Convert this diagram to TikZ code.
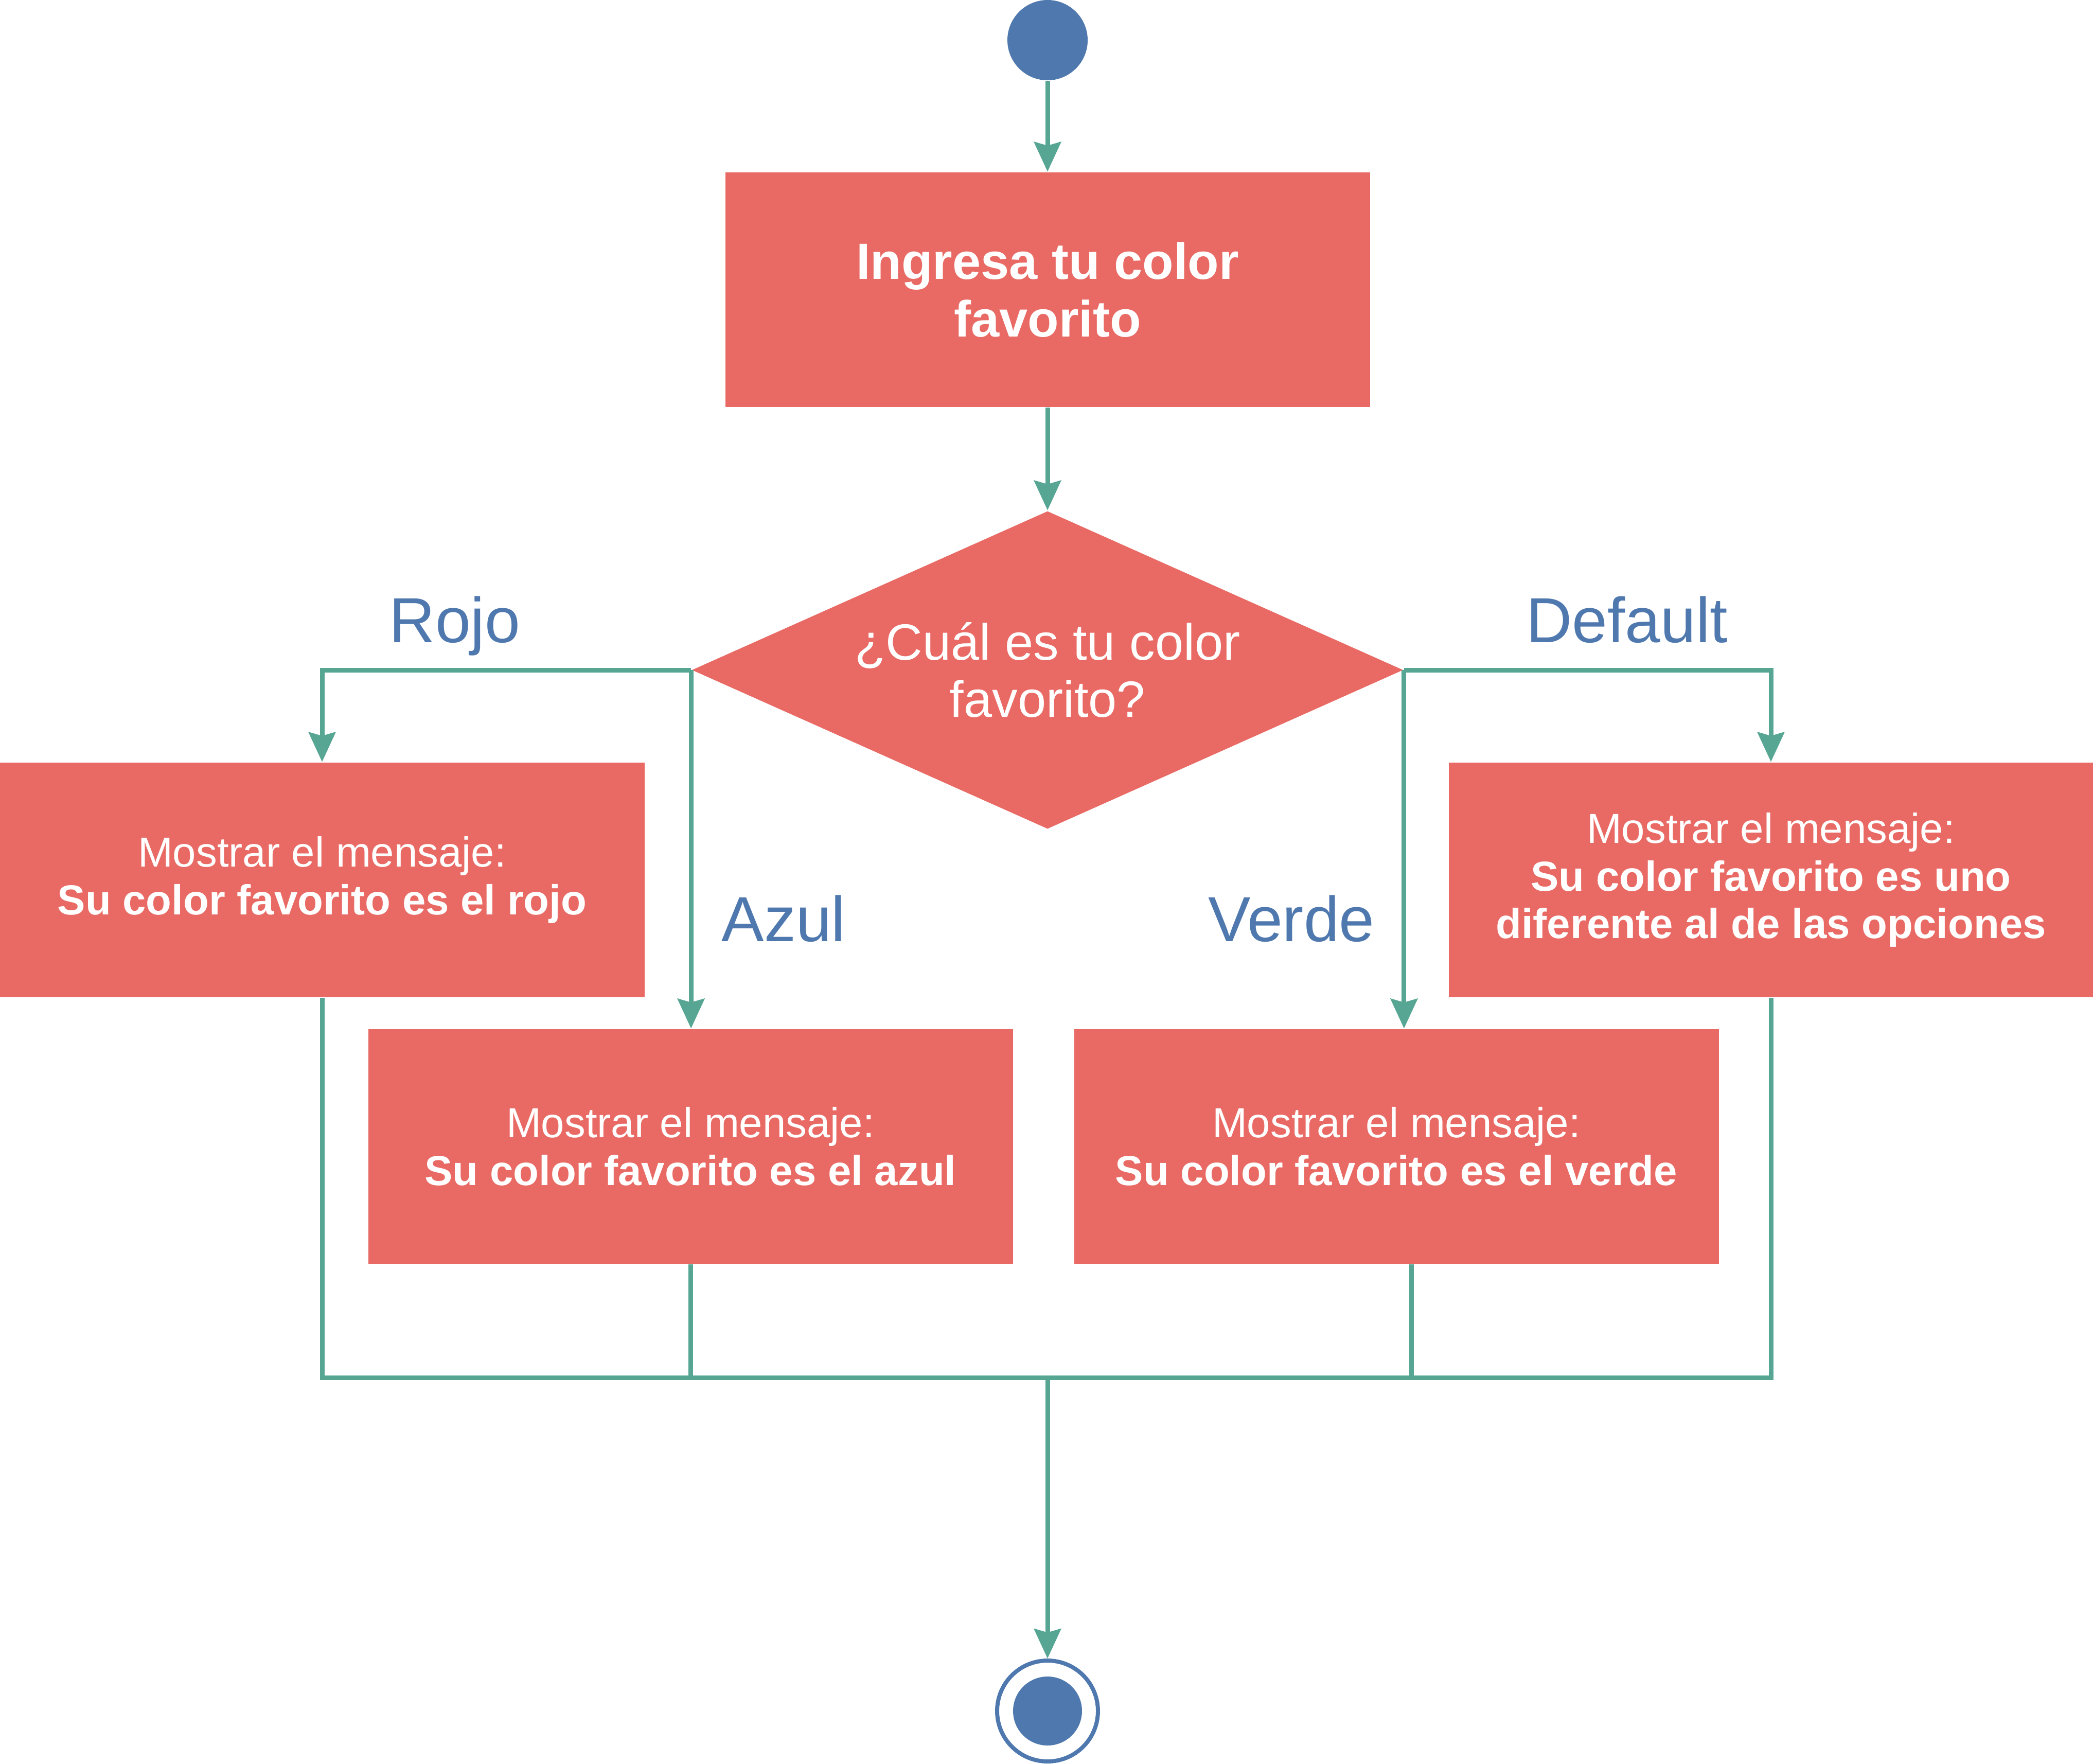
\documentclass[tikz,border=0pt]{standalone}
\usepackage{fontspec}
\setmainfont{Liberation Sans}
\usetikzlibrary{shapes.geometric,arrows.meta}
\definecolor{rojocaja}{HTML}{E96A64}
\definecolor{verdeflecha}{HTML}{57A694}
\definecolor{azultexto}{HTML}{4E78AE}

\begin{document}
\begin{tikzpicture}[
  caja/.style={fill=rojocaja,text=white,minimum width=6.265cm,minimum height=2.28cm,align=center,inner sep=0pt,font=\fontsize{11.6}{13.2}\selectfont},
  flecha/.style={draw=verdeflecha,line width=1.28pt,-{Stealth[length=8.2pt,width=7.4pt,inset=1pt]}},
  linea/.style={draw=verdeflecha,line width=1.28pt},
  etiqueta/.style={text=azultexto,anchor=base,font=\fontsize{17.6}{20}\selectfont},
]
\useasboundingbox (0,0) rectangle (20.34,-17.14);

\node[circle,fill=azultexto,minimum size=0.78cm,inner sep=0pt] (inicio) at (10.18,-0.39) {};
\node[caja,font=\fontsize{14.1}{15.9}\selectfont\bfseries] (ingresa) at (10.18,-2.815) {Ingresa tu color\\favorito};
\node[diamond,aspect=2.24,fill=rojocaja,text=white,minimum width=6.915cm,minimum height=3.09cm,inner sep=0pt,align=center,font=\fontsize{14.1}{15.9}\selectfont] (pregunta) at (10.18,-6.51) {¿Cuál es tu color\\favorito?};

\node[caja] (rojo) at (3.13,-8.55) {Mostrar el mensaje:\\\textbf{Su color favorito es el rojo}};
\node[caja] (def) at (17.21,-8.55) {Mostrar el mensaje:\\\textbf{Su color favorito es uno}\\\textbf{diferente al de las opciones}};
\node[caja] (azul) at (6.71,-11.14) {Mostrar el mensaje:\\\textbf{Su color favorito es el azul}};
\node[caja] (verde) at (13.57,-11.14) {Mostrar el mensaje:\\\textbf{Su color favorito es el verde}};

\node[etiqueta] (lrojo) at (4.42,-6.24) {Rojo};
\node[etiqueta] (ldef) at (15.81,-6.24) {Default};
\node[etiqueta] (lazul) at (7.615,-9.145) {Azul};
\node[etiqueta] (lverde) at (12.55,-9.145) {Verde};

\coordinate (union) at (10.18,-13.385);
\node[circle,draw=azultexto,line width=1.13pt,fill=white,minimum size=0.98cm,inner sep=0pt] (fin) at (10.18,-16.625) {};
\node[circle,fill=azultexto,minimum size=0.67cm,inner sep=0pt] (finpunto) at (fin.center) {};

\path[flecha] (inicio) -- (ingresa);
\path[flecha] (ingresa) -- (pregunta);
\path[flecha] (pregunta.west) -| (rojo.north);
\path[flecha] (pregunta.west) -- (pregunta.west |- azul.north);
\path[flecha] (pregunta.east) -- (pregunta.east |- verde.north);
\path[flecha] (pregunta.east) -| (def.north);

\path[linea] (rojo.south) |- (union) -| (def.south);
\path[linea] (azul.south) -- (azul.south |- union);
\path[linea] ([xshift=0.145cm]verde.south) -- ([xshift=0.145cm]verde.south |- union);
\path[flecha] (union) -- (fin);
\end{tikzpicture}
\end{document}
